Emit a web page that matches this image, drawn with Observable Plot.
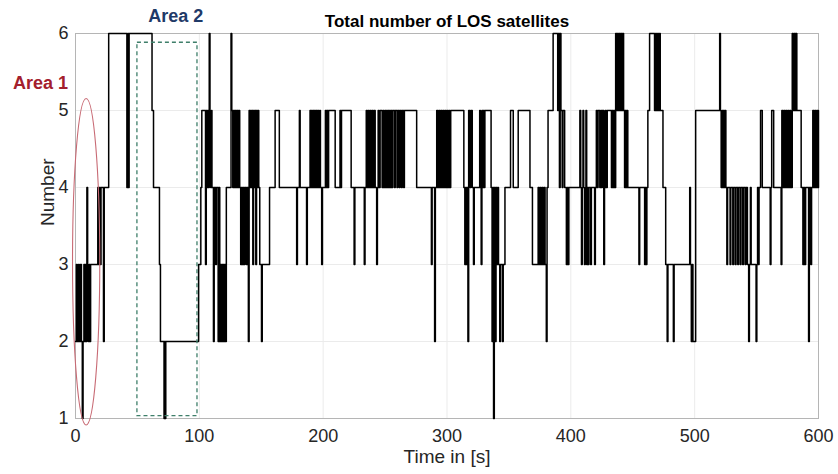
<!DOCTYPE html>
<html>
<head>
<meta charset="utf-8">
<script src="https://cdn.jsdelivr.net/npm/d3@7"></script>
<script src="https://cdn.jsdelivr.net/npm/@observablehq/plot@0.6"></script>
<style>
  html, body { margin: 0; padding: 0; background: #fff; }
  #chart { width: 838px; height: 474px; }
</style>
</head>
<body>
<div id="chart"></div>
<script>
// Step changes: time [s] at which the LOS satellite count changes, and the new count
const time = [
  0,0.7,1.4,2.4,3.1,4.0,4.8,5.5,6.1,6.8,7.4,8.0,8.6,9.2,9.8,10.4,11.0,11.6,12.2,18.0,18.6,19.2,20.0,20.6,22.6,23.2,26.8,
  41.5,42.2,42.8,43.3,61.8,63.0,67.8,68.6,71.5,72.0,72.4,72.9,
  99.4,101.2,102.0,105.0,105.6,106.2,106.8,107.4,108.0,108.6,109.2,109.8,110.2,111.4,112.0,113.2,113.8,115.2,115.8,116.5,117.0,117.6,118.2,118.8,119.4,120.0,120.6,121.2,121.8,
  125.6,126.2,127.0,127.6,128.4,129.0,129.8,130.4,131.2,131.8,132.6,133.4,134.0,134.8,135.4,136.2,136.8,138.0,138.6,139.6,140.2,140.8,141.4,142.0,142.6,143.2,143.8,144.4,145.0,145.6,146.2,146.8,147.4,148.0,148.8,150.2,150.8,156.7,161.2,164.6,
  178.6,179.2,180.8,181.4,186.6,187.2,189.4,190.0,190.6,191.2,191.8,192.4,193.0,193.6,194.2,195.0,195.6,196.4,197.2,197.8,198.8,199.4,201.8,202.6,203.2,203.8,204.4,209.7,213.6,214.2,214.8,222.6,225.0,225.6,233.2,233.8,
  234.8,235.6,236.4,237.2,238.0,238.8,239.6,240.4,241.2,242.0,243.2,243.8,244.4,245.2,246.0,247.6,248.4,249.2,250.0,250.6,251.2,251.8,252.4,253.0,253.6,254.2,254.8,255.6,256.2,257.6,258.2,259.6,260.2,261.4,262.0,263.2,263.8,265.0,265.6,275.5,
  287.4,288.0,290.0,290.6,291.7,292.6,293.4,294.2,295.0,295.8,296.6,297.4,298.2,299.0,299.8,300.6,301.4,302.2,303.0,313.6,314.4,315.0,315.6,316.2,316.9,317.5,318.6,319.4,320.4,321.4,322.0,326.4,327.0,327.6,328.2,328.8,329.4,330.0,330.6,
  335.6,336.4,337.0,337.6,338.2,339.0,339.6,340.4,341.0,341.6,342.6,343.2,344.8,345.4,346.8,351.3,353.5,357.5,367.0,369.0,373.6,374.4,375.2,376.0,376.8,377.6,378.4,379.2,380.2,380.8,381.6,385.7,389.4,390.0,390.8,391.4,392.0,393.0,393.6,395.0,396.4,397.2,397.8,398.4,
  407.3,408.0,408.6,409.2,409.8,410.4,411.0,411.6,412.2,412.8,413.4,414.0,414.6,416.0,416.6,419.2,419.8,420.6,421.4,422.0,423.4,424.2,424.8,425.4,426.6,427.2,427.8,428.6,429.4,432.8,433.4,434.0,434.6,435.4,436.2,437.0,437.6,438.4,439.0,439.8,440.4,441.2,441.8,442.6,443.4,443.8,444.6,445.2,446.0,
  455.0,455.6,459.6,460.2,460.8,461.4,462.2,463.6,467.6,468.4,469.2,470.0,470.8,471.6,472.2,474.4,476.6,477.8,478.4,482.8,483.4,496.0,496.6,497.3,498.0,498.6,500.8,
  520.2,520.8,521.4,522.0,522.6,523.2,523.8,524.4,525.2,526.0,526.6,528.6,529.2,530.8,531.4,532.8,533.4,534.8,535.4,536.8,537.4,538.8,539.4,540.8,541.4,542.6,543.6,544.2,545.0,545.6,549.6,550.2,550.8,551.4,552.0,553.2,554.6,
  561.0,561.6,562.2,563.8,569.8,570.4,571.2,572.0,572.8,573.6,574.4,575.2,576.0,576.8,577.6,578.8,579.6,580.4,581.2,581.8,582.5,586.0,587.4,588.0,588.8,589.6,592.0,592.6,593.8,594.4,595.4,596.2,597.0,597.8,598.6,599.4,600
];
const count = [
  2,3,2,3,2,3,2,1,2,3,2,3,2,4,3,2,3,2,3,4,3,4,3,4,2,4,6,
  4,6,4,6,5,4,3,2,1,2,1,2,
  3,4,5,3,5,4,5,4,6,5,4,5,4,2,4,3,4,2,4,2,3,2,3,2,3,2,3,2,4,
  6,5,4,5,4,5,4,5,4,5,4,3,4,3,4,3,4,3,4,2,5,4,5,4,5,3,5,4,5,3,5,4,5,4,3,2,3,4,5,4,
  3,4,5,4,3,4,5,4,5,4,5,4,5,4,5,4,5,4,5,4,3,4,5,4,5,4,5,4,5,4,5,4,3,4,3,4,
  5,4,5,4,5,4,5,4,5,4,3,4,5,4,5,4,5,4,5,4,5,4,5,4,5,4,5,4,5,4,5,4,5,4,5,4,5,4,5,4,
  3,4,2,4,5,4,5,4,5,4,5,4,5,4,5,4,5,4,5,4,3,4,3,4,2,5,4,5,4,3,4,5,4,3,5,4,5,4,5,
  4,2,4,1,4,2,4,3,4,3,2,3,2,3,4,5,4,5,4,3,4,3,4,3,4,3,4,3,2,4,5,6,5,6,4,6,5,4,5,4,3,4,3,4,
  5,4,3,4,5,4,3,4,5,3,4,3,4,3,4,3,4,5,4,5,4,5,4,5,3,4,5,4,5,4,5,4,5,4,6,5,6,5,6,5,6,5,6,5,4,5,4,5,4,
  3,4,3,4,3,4,5,6,5,6,5,6,5,6,5,4,3,2,3,2,3,4,3,2,3,2,5,
  6,5,4,5,4,5,4,5,4,3,4,3,4,3,4,3,4,3,4,3,4,3,4,3,4,3,2,3,4,3,2,3,4,3,4,5,4,
  3,4,5,4,3,5,4,5,4,5,4,5,4,5,4,6,5,6,5,6,5,4,3,4,3,4,2,4,3,4,5,4,5,4,5,4,5
];
const xTicks = [0, 100, 200, 300, 400, 500, 600];
const yTicks = [1, 2, 3, 4, 5, 6];

// Annotations (data units)
const area1Ellipse = { t: 9, n: 3.03, rt: 11, rn: 2.12 };
const area2Box = { t1: 50, t2: 98.5, n1: 1.03, n2: 5.88 };
const labels = [
  { text: "Area 1", t: -28.3, n: 5.35, color: "#a3202d" },
  { text: "Area 2", t: 81, n: 6.23, color: "#1f3a68" }
];

const data = time.map((t, i) => ({ t, n: count[i] }));

const plot = Plot.plot({
  width: 838,
  height: 474,
  marginLeft: 75,
  marginRight: 20,
  marginTop: 33,
  marginBottom: 56,
  style: { fontFamily: "'Liberation Sans', Arial, sans-serif", fontSize: "18px", color: "#262626", background: "#fff", overflow: "visible" },
  x: { domain: [0, 600], ticks: xTicks, tickSize: 0, tickPadding: 11, label: null, tickFormat: d => String(d) },
  y: { domain: [1, 6], ticks: yTicks, tickSize: 0, tickPadding: 7, label: null, tickFormat: d => String(d) },
  marks: [
    Plot.gridX(xTicks, { stroke: "#ebebeb", strokeOpacity: 1 }),
    Plot.gridY(yTicks, { stroke: "#ebebeb", strokeOpacity: 1 }),
    Plot.frame({ stroke: "#b5b5b5" }),
    Plot.line(data, { x: "t", y: "n", curve: "step-after", stroke: "#000", strokeWidth: 1.5 }),
    Plot.rect([area2Box], { x1: "t1", x2: "t2", y1: "n1", y2: "n2", fill: "none", stroke: "#3f7f6a", strokeWidth: 1.3, strokeDasharray: "4,3" }),
    Plot.text(labels, { x: "t", y: "n", text: "text", fill: "color", fontWeight: "bold", fontSize: 18 }),
    Plot.text(["Total number of LOS satellites"], { frameAnchor: "top", dy: -19, fontWeight: "bold", fontSize: 17, fill: "#000" }),
    Plot.text(["Time in [s]"], { frameAnchor: "bottom", dy: 44, fontSize: 19, fill: "#262626" }),
    Plot.text(["Number"], { frameAnchor: "left", dx: -28, rotate: -90, fontSize: 19, fill: "#262626" })
  ]
});

// Ellipse for Area 1 drawn through the plot's own scales
const sx = plot.scale("x"), sy = plot.scale("y");
const fx = d3.scaleLinear(sx.domain, sx.range);
const fy = d3.scaleLinear(sy.domain, sy.range);
d3.select(plot).append("ellipse")
  .attr("cx", fx(area1Ellipse.t))
  .attr("cy", fy(area1Ellipse.n))
  .attr("rx", Math.abs(fx(area1Ellipse.t + area1Ellipse.rt) - fx(area1Ellipse.t)))
  .attr("ry", Math.abs(fy(area1Ellipse.n + area1Ellipse.rn) - fy(area1Ellipse.n)))
  .attr("fill", "none")
  .attr("stroke", "#c86a74")
  .attr("stroke-width", 1.1);

document.getElementById("chart").appendChild(plot);
</script>
</body>
</html>
